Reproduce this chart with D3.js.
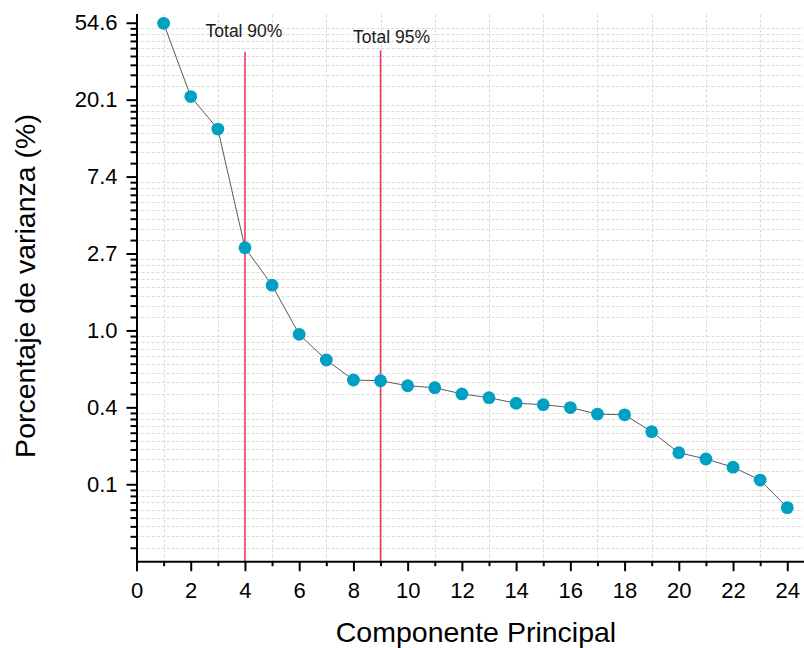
<!DOCTYPE html>
<html>
<head>
<meta charset="utf-8">
<script src="https://cdn.jsdelivr.net/npm/d3@7"></script>
<style>
  html, body { margin: 0; padding: 0; background: #fff; }
  svg { display: block; font-family: "Liberation Sans", Arial, Helvetica, sans-serif; }
</style>
</head>
<body>
<svg id="chart" width="804" height="648"></svg>
<script>
// Scree plot: percentage of variance per principal component (natural-log axis)
const components = [1, 2, 3, 4, 5, 6, 7, 8, 9, 10, 11, 12, 13, 14, 15, 16, 17, 18, 19, 20, 21, 22, 23, 24];
const varianza = [54.2, 20.9, 13.7, 2.93, 1.80, 0.951, 0.681, 0.525, 0.520, 0.487, 0.475, 0.438,
                  0.417, 0.388, 0.381, 0.367, 0.337, 0.334, 0.268, 0.204, 0.188, 0.169, 0.143, 0.0999];

// y ticks sit at whole powers of e
const yTickExponents = [-2, -1, 0, 1, 2, 3, 4];
const yTickLabels = ["0.1", "0.4", "1.0", "2.7", "7.4", "20.1", "54.6"];
const xTickValues = [0, 2, 4, 6, 8, 10, 12, 14, 16, 18, 20, 22, 24];
const xMinorValues = [1, 3, 5, 7, 9, 11, 13, 15, 17, 19, 21, 23];

// cumulative-variance markers
const thresholds = [4, 9];
const thresholdLabels = ["Total 90%", "Total 95%"];

const svg = d3.select("#chart");
const W = 804, H = 648;
svg.append("rect").attr("width", W).attr("height", H).attr("fill", "#fff");

const plotLeft = 136.5, plotRight = 803, plotTop = 14.5, plotBottom = 561.2;

const x = d3.scaleLinear().domain([0, 24.58]).range([plotLeft, plotRight]);
const y = d3.scaleLog().base(Math.E)
  .domain([Math.exp(-3), Math.exp(4.107)])
  .range([plotBottom, plotTop]);

// minor y ticks: 8 evenly spaced values inside each e-interval
const yMinorValues = [];
for (let k = -3; k <= 3; k++) {
  const lo = Math.exp(k), hi = Math.exp(k + 1);
  for (let j = 1; j <= 8; j++) yMinorValues.push(lo + j * (hi - lo) / 9);
}

// grid (minor positions only)
const grid = svg.append("g").attr("class", "grid")
  .attr("stroke", "#dadada").attr("stroke-width", 1).attr("stroke-dasharray", "3,2");
grid.selectAll("line.h").data(yMinorValues).join("line").attr("class", "h")
  .attr("x1", plotLeft).attr("x2", plotRight)
  .attr("y1", d => Math.round(y(d)) + 0.5).attr("y2", d => Math.round(y(d)) + 0.5);
grid.selectAll("line.v").data(xMinorValues).join("line").attr("class", "v")
  .attr("y1", plotTop).attr("y2", plotBottom)
  .attr("x1", d => Math.round(x(d)) + 0.5).attr("x2", d => Math.round(x(d)) + 0.5);

// threshold lines and captions
const thr = svg.append("g").attr("class", "thresholds");
const lineTops = [52, 50.5];
const labelBaselines = [37, 43];
const labelShift = [-1, 11];
thr.selectAll("line").data(thresholds).join("line")
  .attr("x1", d => x(d)).attr("x2", d => x(d))
  .attr("y1", (d, i) => lineTops[i]).attr("y2", plotBottom)
  .attr("stroke", "#ea3a5c").attr("stroke-width", 1.6);
thr.selectAll("text").data(thresholdLabels).join("text")
  .attr("x", (d, i) => x(thresholds[i]) + labelShift[i])
  .attr("y", (d, i) => labelBaselines[i])
  .attr("text-anchor", "middle")
  .attr("font-size", 17.5).attr("fill", "#1a1a1a")
  .text(d => d);

// connecting line and markers
const pts = components.map((c, i) => ({ c, v: varianza[i] }));
svg.append("path").datum(pts)
  .attr("fill", "none").attr("stroke", "#5a5a5a").attr("stroke-width", 1)
  .attr("d", d3.line().x(d => x(d.c)).y(d => y(d.v)));
svg.append("g").selectAll("circle").data(pts).join("circle")
  .attr("cx", d => x(d.c)).attr("cy", d => y(d.v)).attr("r", 6.4)
  .attr("fill", "#00a0c2");

// axes
function styleAxis(g) {
  g.attr("font-family", null).attr("font-size", 22);
  g.selectAll("path.domain").attr("stroke", "#000").attr("stroke-width", 2).attr("stroke-linecap", "square");
  g.selectAll(".tick line").attr("stroke", "#000").attr("stroke-width", 2);
  g.selectAll(".tick text").attr("fill", "#000");
}

const yMinorAxis = svg.append("g").attr("transform", `translate(${plotLeft},0)`)
  .call(d3.axisLeft(y).tickValues(yMinorValues).tickFormat("").tickSizeInner(6).tickSizeOuter(0));
yMinorAxis.select("path.domain").remove();
styleAxis(yMinorAxis);

const yAxis = svg.append("g").attr("transform", `translate(${plotLeft},0)`)
  .call(d3.axisLeft(y)
    .tickValues(yTickExponents.map(Math.exp))
    .tickFormat((d, i) => yTickLabels[i])
    .tickSizeInner(10).tickSizeOuter(0).tickPadding(9));
styleAxis(yAxis);

const xMinorAxis = svg.append("g").attr("transform", `translate(0,${plotBottom})`)
  .call(d3.axisBottom(x).tickValues(xMinorValues).tickFormat("").tickSizeInner(5).tickSizeOuter(0));
xMinorAxis.select("path.domain").remove();
styleAxis(xMinorAxis);

const xAxis = svg.append("g").attr("transform", `translate(0,${plotBottom})`)
  .call(d3.axisBottom(x).tickValues(xTickValues).tickFormat(d3.format("d"))
    .tickSizeInner(10).tickSizeOuter(0).tickPadding(11));
styleAxis(xAxis);

// axis titles
svg.append("text")
  .attr("x", 476).attr("y", 642)
  .attr("text-anchor", "middle").attr("font-size", 28.5).attr("fill", "#000")
  .text("Componente Principal");
svg.append("text")
  .attr("transform", "translate(35,286) rotate(-90)")
  .attr("text-anchor", "middle").attr("font-size", 28.5).attr("fill", "#000")
  .text("Porcentaje de varianza (%)");
</script>
</body>
</html>
